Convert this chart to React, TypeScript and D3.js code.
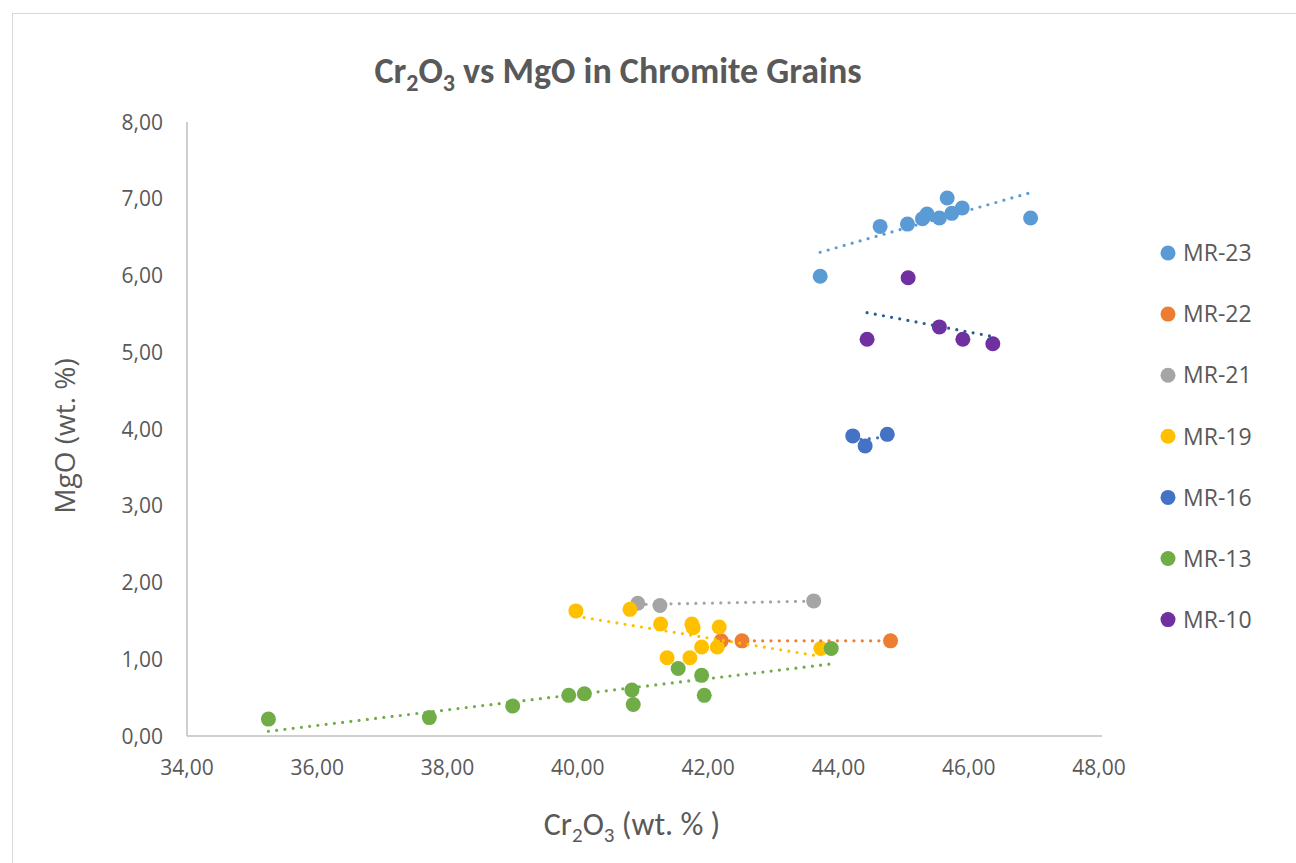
import React from 'react';
import * as d3 from 'd3';

// Cr2O3 (x) and MgO (y) per sample, wt. %
const mr23X = [43.72, 44.64, 45.06, 45.29, 45.36, 45.55, 45.67, 45.74, 45.9, 46.95];
const mr23Y = [5.99, 6.64, 6.67, 6.74, 6.8, 6.75, 7.01, 6.81, 6.88, 6.75];
const mr22X = [42.2, 42.52, 44.8];
const mr22Y = [1.24, 1.24, 1.24];
const mr21X = [40.92, 41.26, 43.62];
const mr21Y = [1.73, 1.7, 1.76];
const mr19X = [39.97, 40.8, 41.27, 41.75, 41.77, 42.17, 41.9, 42.14, 41.37, 41.72, 43.73];
const mr19Y = [1.63, 1.65, 1.46, 1.46, 1.41, 1.42, 1.16, 1.16, 1.02, 1.02, 1.14];
const mr16X = [44.22, 44.41, 44.75];
const mr16Y = [3.91, 3.78, 3.93];
const mr13X = [35.25, 37.72, 39.0, 39.86, 40.1, 40.83, 40.85, 41.54, 41.9, 41.94, 43.89];
const mr13Y = [0.22, 0.24, 0.39, 0.53, 0.55, 0.6, 0.41, 0.88, 0.79, 0.53, 1.14];
const mr10X = [44.44, 45.07, 45.55, 45.91, 46.37];
const mr10Y = [5.17, 5.97, 5.33, 5.17, 5.11];

const seriesNames = ['MR-23', 'MR-22', 'MR-21', 'MR-19', 'MR-16', 'MR-13', 'MR-10'];
const markerColors = ['#5b9bd5', '#ed7d31', '#a5a5a5', '#ffc000', '#4472c4', '#70ad47', '#7030a0'];
const trendColors = ['#5b9bd5', '#ed7d31', '#a5a5a5', '#ffc000', '#4472c4', '#70ad47', '#255e91'];

const xTicks = [34, 36, 38, 40, 42, 44, 46, 48];
const yTicks = [0, 1, 2, 3, 4, 5, 6, 7, 8];

const series = [
  [mr23X, mr23Y], [mr22X, mr22Y], [mr21X, mr21Y], [mr19X, mr19Y],
  [mr16X, mr16Y], [mr13X, mr13Y], [mr10X, mr10Y],
].map(([xs, ys], i) => ({
  name: seriesNames[i],
  color: markerColors[i],
  trend: trendColors[i],
  points: xs.map((x, j) => ({ x, y: ys[j] })),
}));

// least squares line, like excel's linear trendline
function fit(points) {
  const mx = d3.mean(points, (d) => d.x);
  const my = d3.mean(points, (d) => d.y);
  const sxy = d3.sum(points, (d) => (d.x - mx) * (d.y - my));
  const sxx = d3.sum(points, (d) => (d.x - mx) ** 2);
  const slope = sxy / sxx;
  const [x0, x1] = d3.extent(points, (d) => d.x);
  return [
    { x: x0, y: my + slope * (x0 - mx) },
    { x: x1, y: my + slope * (x1 - mx) },
  ];
}

const fmt = (v) => v.toFixed(2).replace('.', ',');
const calibri = 'Carlito, Lato, sans-serif';
const segoe = '"Open Sans", "Noto Sans", sans-serif';
const textColor = '#595959';

export default function App() {
  const width = 1296;
  const height = 863;
  const x = d3.scaleLinear().domain([34, 48]).range([187, 1099]);
  const y = d3.scaleLinear().domain([0, 8]).range([736, 122]);
  const line = d3.line().x((d) => x(d.x)).y((d) => y(d.y));

  return (
    <svg width={width} height={height} style={{ position: 'absolute', left: 0, top: 0 }}>
      <rect x={0} y={0} width={width} height={height} fill="#fff" />
      <rect x={12.5} y={13.5} width={width} height={height} fill="none" stroke="#d9d9d9" />

      <text x={618} y={83} textAnchor="middle" fontSize={36} fontWeight="bold" fill={textColor} fontFamily={calibri}>
        Cr<tspan fontSize={24} dy={8}>2</tspan><tspan dy={-8}>O</tspan>
        <tspan fontSize={24} dy={8}>3</tspan><tspan dy={-8}> vs MgO in Chromite Grains</tspan>
      </text>

      {/* axes */}
      <line x1={x(34)} x2={x(48) + 3} y1={y(0)} y2={y(0)} stroke="#bfbfbf" strokeWidth={1.5} />
      <line x1={x(34)} x2={x(34)} y1={y(0)} y2={y(8)} stroke="#bfbfbf" strokeWidth={1.5} />

      {yTicks.map((t) => (
        <text key={t} x={163} y={y(t)} dy="0.36em" textAnchor="end" fontSize={21} fill={textColor} fontFamily={segoe}>
          {fmt(t)}
        </text>
      ))}
      {xTicks.map((t) => (
        <text key={t} x={x(t)} y={775} textAnchor="middle" fontSize={21} fill={textColor} fontFamily={segoe}>
          {fmt(t)}
        </text>
      ))}

      <text transform="translate(75,436) rotate(-90)" textAnchor="middle" fontSize={28} fill={textColor} fontFamily={segoe}>
        MgO (wt. %)
      </text>
      <text x={632} y={835} textAnchor="middle" fontSize={32} fill={textColor} fontFamily={calibri}>
        Cr<tspan fontSize={21} dy={7}>2</tspan><tspan dy={-7}>O</tspan>
        <tspan fontSize={21} dy={7}>3</tspan><tspan dy={-7}> (wt. % )</tspan>
      </text>

      {series.map((s) => (
        <g key={s.name}>
          {s.points.map((p, j) => (
            <circle key={j} cx={x(p.x)} cy={y(p.y)} r={7.5} fill={s.color} />
          ))}
        </g>
      ))}

      {series.map((s) => (
        <path
          key={s.name}
          d={line(fit(s.points))}
          fill="none"
          stroke={s.trend}
          strokeWidth={3.2}
          strokeLinecap="round"
          strokeDasharray="0 8.3"
        />
      ))}

      {series.map((s, i) => (
        <g key={s.name} transform={`translate(1168,${253 + i * 61.1})`}>
          <circle r={7.5} fill={s.color} />
          <text x={15} dy="0.36em" fontSize={23} fill={textColor} fontFamily={segoe}>{s.name}</text>
        </g>
      ))}
    </svg>
  );
}
